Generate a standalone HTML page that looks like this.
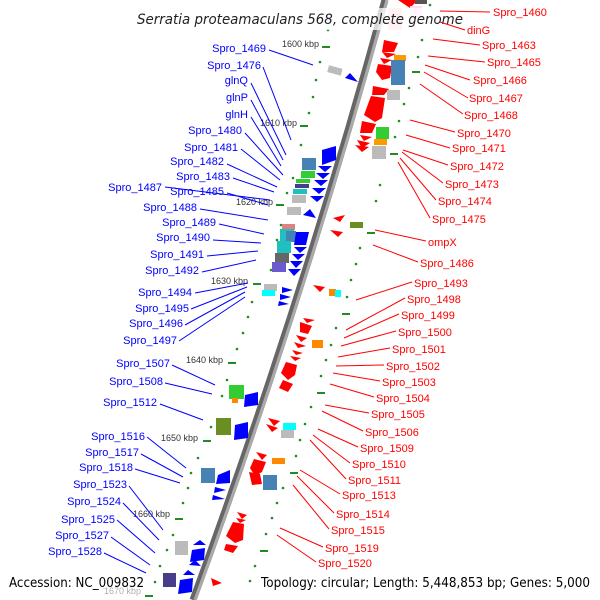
<!DOCTYPE html>
<html><head><meta charset="utf-8"><style>
html,body{margin:0;padding:0;background:#fff}
svg{display:block}
.b{fill:#0000ff;font:11px "Liberation Sans",sans-serif}
.r{fill:#ff0000;font:11px "Liberation Sans",sans-serif}
.k{fill:#333;font:9px "Liberation Sans",sans-serif}
</style></head><body>
<svg width="600" height="600" viewBox="0 0 600 600" xmlns="http://www.w3.org/2000/svg">
<path d="M385,0 Q303,300 193,600" stroke="#666" stroke-width="7" fill="none"/>
<path d="M387,0 Q305,300 195,600" stroke="#aaa" stroke-width="3" fill="none"/>

<g fill="#228b22">
<rect x="322" y="46" width="8" height="2"/><rect x="300" y="125" width="8" height="2"/><rect x="276" y="204" width="8" height="2"/><rect x="253" y="283" width="8" height="2"/><rect x="228" y="362" width="8" height="2"/><rect x="203" y="440" width="8" height="2"/><rect x="175" y="518" width="8" height="2"/><rect x="145" y="595" width="8" height="2"/>
<circle cx="328" cy="30" r="1.3"/><circle cx="320" cy="62" r="1.3"/><circle cx="316" cy="80" r="1.3"/><circle cx="313" cy="97" r="1.3"/><circle cx="309" cy="113" r="1.3"/><circle cx="301" cy="145" r="1.3"/><circle cx="293" cy="178" r="1.3"/><circle cx="287" cy="193" r="1.3"/><circle cx="281" cy="225" r="1.3"/><circle cx="277" cy="240" r="1.3"/><circle cx="271" cy="270" r="1.3"/><circle cx="252" cy="302" r="1.3"/><circle cx="248" cy="317" r="1.3"/><circle cx="243" cy="333" r="1.3"/><circle cx="237" cy="349" r="1.3"/><circle cx="227" cy="380" r="1.3"/><circle cx="222" cy="396" r="1.3"/><circle cx="211" cy="427" r="1.3"/><circle cx="198" cy="458" r="1.3"/><circle cx="191" cy="473" r="1.3"/><circle cx="188" cy="488" r="1.3"/><circle cx="183" cy="503" r="1.3"/><circle cx="173" cy="535" r="1.3"/><circle cx="167" cy="550" r="1.3"/><circle cx="160" cy="566" r="1.3"/><circle cx="155" cy="582" r="1.3"/>
<rect x="412" y="71" width="8" height="2"/><rect x="390" y="153" width="8" height="2"/><rect x="367" y="232" width="8" height="2"/><rect x="342" y="313" width="8" height="2"/><rect x="317" y="392" width="8" height="2"/><rect x="290" y="472" width="8" height="2"/><rect x="260" y="550" width="8" height="2"/>
<circle cx="430" cy="5" r="1.3"/><circle cx="422" cy="40" r="1.3"/><circle cx="418" cy="57" r="1.3"/><circle cx="409" cy="88" r="1.3"/><circle cx="404" cy="104" r="1.3"/><circle cx="399" cy="121" r="1.3"/><circle cx="395" cy="137" r="1.3"/><circle cx="380" cy="185" r="1.3"/><circle cx="376" cy="201" r="1.3"/><circle cx="360" cy="248" r="1.3"/><circle cx="356" cy="264" r="1.3"/><circle cx="351" cy="280" r="1.3"/><circle cx="347" cy="297" r="1.3"/><circle cx="336" cy="328" r="1.3"/><circle cx="331" cy="345" r="1.3"/><circle cx="326" cy="360" r="1.3"/><circle cx="321" cy="376" r="1.3"/><circle cx="311" cy="407" r="1.3"/><circle cx="305" cy="424" r="1.3"/><circle cx="300" cy="440" r="1.3"/><circle cx="296" cy="456" r="1.3"/><circle cx="283" cy="488" r="1.3"/><circle cx="277" cy="503" r="1.3"/><circle cx="272" cy="518" r="1.3"/><circle cx="266" cy="534" r="1.3"/><circle cx="255" cy="566" r="1.3"/><circle cx="250" cy="581" r="1.3"/>
</g>

<text class="k" x="282" y="47">1600 kbp</text>
<text class="k" x="260" y="126">1610 kbp</text>
<text class="k" x="236" y="205">1620 kbp</text>
<text class="k" x="211" y="284">1630 kbp</text>
<text class="k" x="186" y="363">1640 kbp</text>
<text class="k" x="161" y="441">1650 kbp</text>
<text class="k" x="133" y="517">1660 kbp</text>
<text class="k" x="104" y="594" fill-opacity="0.4">1670 kbp</text>

<g>
<rect x="328" y="67" width="14" height="7" fill="#bbb" transform="rotate(15 335 70)"/>
<polygon points="345,78 358,82 350,73" fill="#00f"/>
<polygon points="322,150 336,146 336,160 322,165" fill="#00f"/>
<polygon points="318,166 332,166 325,172" fill="#00f"/><polygon points="316,173 330,173 323,179" fill="#00f"/><polygon points="314,180 328,180 321,186" fill="#00f"/><polygon points="312,188 326,188 319,194" fill="#00f"/><polygon points="310,196 324,196 317,202" fill="#00f"/>
<rect x="302" y="158" width="14" height="12" fill="#4682b4"/><rect x="301" y="171" width="14" height="7" fill="#32cd32"/><rect x="296" y="179" width="14" height="4" fill="#32cd32"/><rect x="295" y="184" width="14" height="4" fill="#483d8b"/><rect x="293" y="189" width="14" height="5" fill="#20c0c0"/><rect x="292" y="195" width="14" height="8" fill="#bbb"/>
<rect x="287" y="207" width="14" height="8" fill="#bbb"/>
<polygon points="303,215 316,218 310,209" fill="#00f"/>
<rect x="282" y="224" width="13" height="6" fill="#e08080"/><rect x="280" y="229" width="14" height="12" fill="#20c0c0"/><rect x="286" y="231" width="10" height="11" fill="#4682b4"/><rect x="277" y="241" width="14" height="12" fill="#20c0c0"/><rect x="275" y="253" width="14" height="10" fill="#666"/><rect x="272" y="262" width="14" height="10" fill="#6a5acd"/>
<polygon points="296,232 309,232 306,245 294,245" fill="#00f"/><polygon points="294,247 307,247 300,253" fill="#00f"/><polygon points="292,254 305,254 298,260" fill="#00f"/><polygon points="290,261 303,261 296,268" fill="#00f"/><polygon points="288,269 301,269 294,276" fill="#00f"/>
<rect x="264" y="284" width="13" height="7" fill="#bbb"/><rect x="262" y="290" width="13" height="6" fill="#0ff"/>
<polygon points="282,287 293,290 282,293" fill="#00f"/><polygon points="280,294 291,297 280,300" fill="#00f"/><polygon points="279,301 289,304 278,306" fill="#00f"/>
<rect x="229" y="385" width="15" height="14" fill="#32cd32"/><rect x="232" y="398" width="6" height="5" fill="#f80"/>
<polygon points="245,395 258,392 258,405 244,407" fill="#00f"/>
<rect x="216" y="418" width="15" height="17" fill="#6b8e23"/>
<polygon points="235,425 248,422 248,438 234,440" fill="#00f"/>
<rect x="201" y="468" width="14" height="15" fill="#4682b4"/>
<polygon points="218,475 230,470 230,483 216,484" fill="#00f"/><polygon points="215,487 226,490 214,493" fill="#00f"/><polygon points="213,495 225,499 212,500" fill="#00f"/>
<rect x="175" y="541" width="13" height="14" fill="#bbb"/>
<polygon points="193,545 206,545 200,540" fill="#00f"/><polygon points="192,550 205,548 204,560 190,562" fill="#00f"/><polygon points="189,565 201,566 195,560" fill="#00f"/>
<rect x="163" y="573" width="13" height="14" fill="#483d8b"/>
<polygon points="183,575 195,575 188,570" fill="#00f"/><polygon points="180,580 193,578 192,592 178,594" fill="#00f"/>
<polygon points="322,21 335,21 329,17" fill="#aac" opacity="0.6"/>
</g>

<g fill="#f00">
<polygon points="398,0 418,0 410,8" /><rect x="415" y="0" width="12" height="4" fill="#555"/>
<rect x="388" y="8" width="14" height="22" fill="#fcc"/><rect x="410" y="6" width="12" height="18" fill="#fde"/>
<polygon points="384,40 398,43 394,52 382,52"/><polygon points="382,52 396,54 387,58"/><polygon points="380,58 392,60 384,64"/><polygon points="378,64 392,66 390,78 382,80 376,72"/>
<rect x="394" y="55" width="12" height="6" fill="#f90"/><rect x="391" y="60" width="14" height="25" fill="#4682b4"/>
<polygon points="373,86 389,89 384,95 372,95"/><rect x="387" y="90" width="13" height="10" fill="#bbb"/>
<polygon points="371,96 385,98 382,118 375,122 364,115"/>
<polygon points="362,121 376,124 372,133 360,133"/><polygon points="360,135 372,137 364,141"/><polygon points="357,140 370,143 362,148"/><polygon points="355,145 369,147 362,152"/>
<rect x="376" y="127" width="13" height="12" fill="#32cd32"/><rect x="374" y="139" width="13" height="6" fill="#f90"/><rect x="372" y="146" width="14" height="13" fill="#bbb"/>
<polygon points="333,218 345,215 340,222"/><rect x="350" y="222" width="13" height="6" fill="#6b8e23"/><polygon points="330,230 343,232 338,237"/>
<polygon points="313,285 325,287 320,292"/><rect x="329" y="289" width="7" height="7" fill="#f80"/><rect x="335" y="290" width="6" height="7" fill="#0ff"/>
<polygon points="303,318 315,320 307,323"/><polygon points="300,322 312,326 308,334 300,332"/>
<polygon points="296,335 307,338 301,342"/><rect x="312" y="340" width="11" height="8" fill="#f80"/><polygon points="294,342 306,346 298,348"/><polygon points="292,350 303,353 296,355"/><polygon points="290,356 301,358 295,361"/>
<polygon points="286,362 297,365 295,375 288,380 281,373"/><polygon points="283,380 293,384 288,392 279,388"/>
<polygon points="268,418 280,421 274,426"/><polygon points="266,424 278,428 272,432"/><rect x="283" y="423" width="13" height="7" fill="#0ff"/><rect x="281" y="430" width="13" height="8" fill="#bbb"/>
<polygon points="256,452 267,455 262,460"/><polygon points="254,459 266,462 262,472 255,476 250,468"/><rect x="272" y="458" width="13" height="6" fill="#f80"/>
<polygon points="249,472 260,474 262,484 252,485"/><rect x="263" y="475" width="14" height="15" fill="#4682b4"/>
<polygon points="237,512 247,515 242,519"/><polygon points="236,518 246,520 240,523"/><polygon points="233,522 244,524 243,540 235,543 226,536"/><polygon points="226,544 238,546 233,553 224,550"/>
<polygon points="211,578 222,583 213,586"/>
</g>

<rect x="132" y="8" width="336" height="22" fill="#fff" opacity="0.75"/>
<text x="137" y="24" textLength="326" lengthAdjust="spacingAndGlyphs" style="font:italic 14px 'DejaVu Sans','Liberation Sans',sans-serif" fill="#222">Serratia proteamaculans 568, complete genome</text>

<g stroke="#00f" stroke-width="1">
<line x1="269" y1="50" x2="313" y2="65"/><line x1="263" y1="67" x2="291" y2="140"/><line x1="251" y1="83" x2="286" y2="155"/><line x1="251" y1="100" x2="283" y2="160"/><line x1="251" y1="117" x2="281" y2="166"/><line x1="245" y1="133" x2="283" y2="175"/><line x1="241" y1="149" x2="280" y2="180"/><line x1="227" y1="164" x2="277" y2="187"/><line x1="233" y1="178" x2="274" y2="192"/><line x1="165" y1="187" x2="270" y2="200"/><line x1="227" y1="193" x2="268" y2="205"/><line x1="200" y1="209" x2="268" y2="220"/><line x1="219" y1="224" x2="264" y2="234"/><line x1="213" y1="240" x2="261" y2="243"/><line x1="207" y1="256" x2="258" y2="251"/><line x1="202" y1="272" x2="256" y2="260"/><line x1="195" y1="293" x2="248" y2="283"/><line x1="191" y1="309" x2="247" y2="287"/><line x1="185" y1="325" x2="245" y2="292"/><line x1="179" y1="341" x2="245" y2="297"/><line x1="172" y1="365" x2="215" y2="385"/><line x1="165" y1="383" x2="212" y2="394"/><line x1="160" y1="404" x2="203" y2="420"/><line x1="147" y1="437" x2="186" y2="468"/><line x1="141" y1="454" x2="183" y2="477"/><line x1="135" y1="469" x2="180" y2="483"/><line x1="129" y1="486" x2="163" y2="530"/><line x1="123" y1="503" x2="159" y2="540"/><line x1="117" y1="520" x2="155" y2="553"/><line x1="111" y1="537" x2="150" y2="565"/><line x1="104" y1="553" x2="146" y2="573"/>
</g>
<g stroke="#f00" stroke-width="1">
<line x1="440" y1="11" x2="490" y2="12"/><line x1="440" y1="22" x2="465" y2="30"/><line x1="433" y1="39" x2="480" y2="45"/><line x1="428" y1="56" x2="485" y2="62"/><line x1="425" y1="65" x2="470" y2="80"/><line x1="424" y1="72" x2="468" y2="98"/><line x1="420" y1="84" x2="463" y2="114"/><line x1="410" y1="120" x2="455" y2="132"/><line x1="406" y1="135" x2="450" y2="148"/><line x1="403" y1="150" x2="448" y2="165"/><line x1="402" y1="152" x2="443" y2="183"/><line x1="400" y1="158" x2="436" y2="200"/><line x1="398" y1="162" x2="430" y2="218"/><line x1="375" y1="230" x2="426" y2="241"/><line x1="373" y1="245" x2="418" y2="262"/><line x1="356" y1="300" x2="412" y2="282"/><line x1="346" y1="330" x2="405" y2="298"/><line x1="344" y1="338" x2="399" y2="314"/><line x1="341" y1="346" x2="396" y2="331"/><line x1="338" y1="357" x2="390" y2="348"/><line x1="336" y1="366" x2="384" y2="365"/><line x1="333" y1="373" x2="380" y2="381"/><line x1="330" y1="384" x2="374" y2="397"/><line x1="325" y1="405" x2="369" y2="413"/><line x1="322" y1="411" x2="363" y2="431"/><line x1="318" y1="429" x2="358" y2="447"/><line x1="313" y1="435" x2="350" y2="463"/><line x1="310" y1="440" x2="346" y2="479"/><line x1="300" y1="470" x2="340" y2="494"/><line x1="297" y1="476" x2="334" y2="513"/><line x1="293" y1="485" x2="329" y2="529"/><line x1="280" y1="528" x2="323" y2="547"/><line x1="277" y1="535" x2="316" y2="562"/>
</g>

<g class="b" text-anchor="end">
<text x="266" y="52">Spro_1469</text><text x="261" y="69">Spro_1476</text><text x="248" y="84">glnQ</text><text x="248" y="101">glnP</text><text x="248" y="118">glnH</text><text x="242" y="134">Spro_1480</text><text x="238" y="151">Spro_1481</text><text x="224" y="165">Spro_1482</text><text x="230" y="180">Spro_1483</text><text x="162" y="191">Spro_1487</text><text x="224" y="195">Spro_1485</text><text x="197" y="211">Spro_1488</text><text x="216" y="226">Spro_1489</text><text x="210" y="241">Spro_1490</text><text x="204" y="258">Spro_1491</text><text x="199" y="274">Spro_1492</text><text x="192" y="296">Spro_1494</text><text x="189" y="312">Spro_1495</text><text x="183" y="327">Spro_1496</text><text x="177" y="344">Spro_1497</text><text x="170" y="367">Spro_1507</text><text x="163" y="385">Spro_1508</text><text x="157" y="406">Spro_1512</text><text x="145" y="440">Spro_1516</text><text x="139" y="456">Spro_1517</text><text x="133" y="471">Spro_1518</text><text x="127" y="488">Spro_1523</text><text x="121" y="505">Spro_1524</text><text x="115" y="523">Spro_1525</text><text x="109" y="539">Spro_1527</text><text x="102" y="555">Spro_1528</text>
</g>
<g class="r">
<text x="493" y="16">Spro_1460</text><text x="467" y="34">dinG</text><text x="482" y="49">Spro_1463</text><text x="487" y="66">Spro_1465</text><text x="473" y="84">Spro_1466</text><text x="469" y="102">Spro_1467</text><text x="464" y="119">Spro_1468</text><text x="457" y="137">Spro_1470</text><text x="452" y="152">Spro_1471</text><text x="450" y="170">Spro_1472</text><text x="445" y="188">Spro_1473</text><text x="438" y="205">Spro_1474</text><text x="432" y="223">Spro_1475</text><text x="428" y="246">ompX</text><text x="420" y="267">Spro_1486</text><text x="414" y="287">Spro_1493</text><text x="407" y="303">Spro_1498</text><text x="401" y="319">Spro_1499</text><text x="398" y="336">Spro_1500</text><text x="392" y="353">Spro_1501</text><text x="386" y="370">Spro_1502</text><text x="382" y="386">Spro_1503</text><text x="376" y="402">Spro_1504</text><text x="371" y="418">Spro_1505</text><text x="365" y="436">Spro_1506</text><text x="360" y="452">Spro_1509</text><text x="352" y="468">Spro_1510</text><text x="348" y="484">Spro_1511</text><text x="342" y="499">Spro_1513</text><text x="336" y="518">Spro_1514</text><text x="331" y="534">Spro_1515</text><text x="325" y="552">Spro_1519</text><text x="318" y="567">Spro_1520</text>
</g>

<text x="9" y="587" textLength="135" lengthAdjust="spacingAndGlyphs" style="font:13px 'DejaVu Sans','Liberation Sans',sans-serif" fill="#000">Accession: NC_009832</text>
<text x="261" y="587" textLength="329" lengthAdjust="spacingAndGlyphs" style="font:13px 'DejaVu Sans','Liberation Sans',sans-serif" fill="#000">Topology: circular; Length: 5,448,853 bp; Genes: 5,000</text>
</svg>
</body></html>
